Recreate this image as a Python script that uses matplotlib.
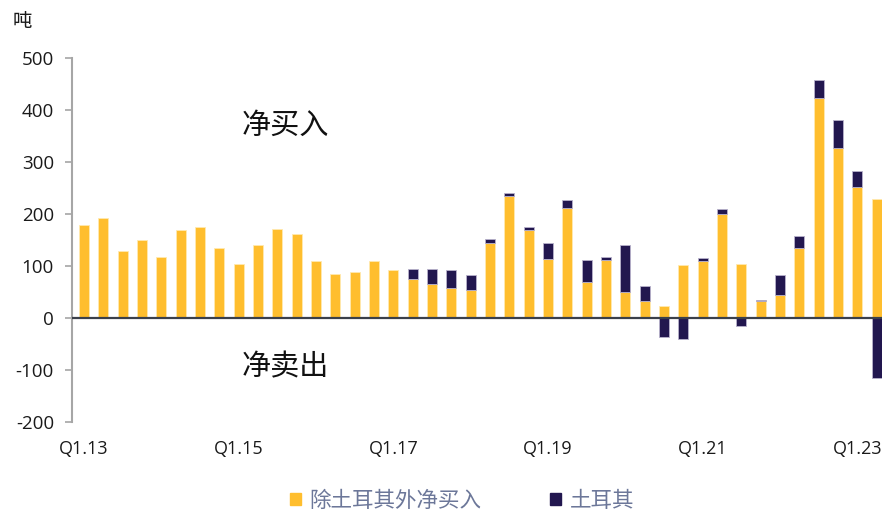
import matplotlib
matplotlib.use("Agg")
import matplotlib.pyplot as plt
import numpy as np
from matplotlib.patches import Rectangle

plt.rcParams['font.family'] = ['Open Sans', 'Noto Sans CJK SC', 'DejaVu Sans']

quarters = [f"Q{q}.{y}" for y in range(13, 24) for q in range(1, 5)][:42]
ex_turkey = [179, 193, 128, 150, 117, 169, 176, 135, 103, 141, 172, 162, 110, 84,
             88, 110, 92, 74, 65, 58, 54, 144, 234, 170, 113, 211, 70, 112,
             50, 32, 23, 101, 110, 200, 104, 32, 45, 134, 424, 328, 253, 229]
turkey = [0, 0, 0, 0, 0, 0, 0, 0, 0, 0, 0, 0, 0, 0,
          0, 0, 0, 21, 30, 35, 29, 8, 6, 6, 32, 16, 42, 5,
          90, 30, -36, -41, 5, 10, -16, 2, 37, 24, 34, 53, 30, -116]
tick_labels = ["Q1.13", "Q1.15", "Q1.17", "Q1.19", "Q1.21", "Q1.23"]
series_names = ["除土耳其外净买入", "土耳其"]

yellow = "#FFBE2E"
navy = "#22174F"

fig = plt.figure(figsize=(8.82, 5.13), dpi=100)
ax = fig.add_axes([72/882, 1-421.7/513, (882-72)/882, (421.7-58.3)/513])

x = np.arange(len(quarters))
ex = np.array(ex_turkey, dtype=float)
tk = np.array(turkey, dtype=float)
nz = tk != 0
bottom_tk = np.where(tk >= 0, ex, 0)
w = 0.52
ax.bar(x, ex, width=w, color=yellow, edgecolor="#FFE9B0", linewidth=0.6, zorder=2,
       label=series_names[0])
ax.bar(x[nz], tk[nz], bottom=bottom_tk[nz], width=w, color=navy, edgecolor="#B8B2CC",
       linewidth=0.6, zorder=2, label=series_names[1])

ax.set_xlim((72-84)/19.33, (882-84)/19.33)
ax.set_ylim(-200, 500)
ax.set_yticks(range(-200, 501, 100))
ax.set_yticklabels([str(v) for v in range(-200, 501, 100)], fontsize=13.5, color="#1a1a1a")
ax.set_xticks([quarters.index(t) for t in tick_labels])
ax.set_xticklabels(tick_labels, fontsize=13, color="#1a1a1a")
ax.tick_params(axis='x', length=0, pad=13)
ax.tick_params(axis='y', length=5, width=1.2, color="#A6A6A6", pad=8)

for s in ["top", "right", "bottom"]:
    ax.spines[s].set_visible(False)
ax.spines["left"].set_color("#A6A6A6")
ax.spines["left"].set_linewidth(1.5)
ax.axhline(0, color="#3A3F4A", linewidth=1.6, zorder=3)

fig.text(22/882, 1-22/513, "吨", fontsize=14, family=['Noto Sans CJK SC'],
         ha='center', va='center', color="#1a1a1a")
fig.text(285/882, 1-126/513, "净买入", fontsize=21, family=['Noto Sans CJK SC'],
         weight='light', ha='center', va='center', color="#111111")
fig.text(285/882, 1-367/513, "净卖出", fontsize=21, family=['Noto Sans CJK SC'],
         weight='light', ha='center', va='center', color="#111111")

leg = fig.legend(handles=[Rectangle((0, 0), 1, 1, color=yellow), Rectangle((0, 0), 1, 1, color=navy)],
                 labels=series_names, loc='center', bbox_to_anchor=(462/882, 1-501/513),
                 ncol=2, frameon=False, handlelength=0.5, handleheight=0.5,
                 handletextpad=0.4, columnspacing=3.2,
                 prop={'family': ['Noto Sans CJK SC'], 'size': 15.5})
for t in leg.get_texts():
    t.set_color("#6C7799")

fig.savefig("out.png", dpi=100)
